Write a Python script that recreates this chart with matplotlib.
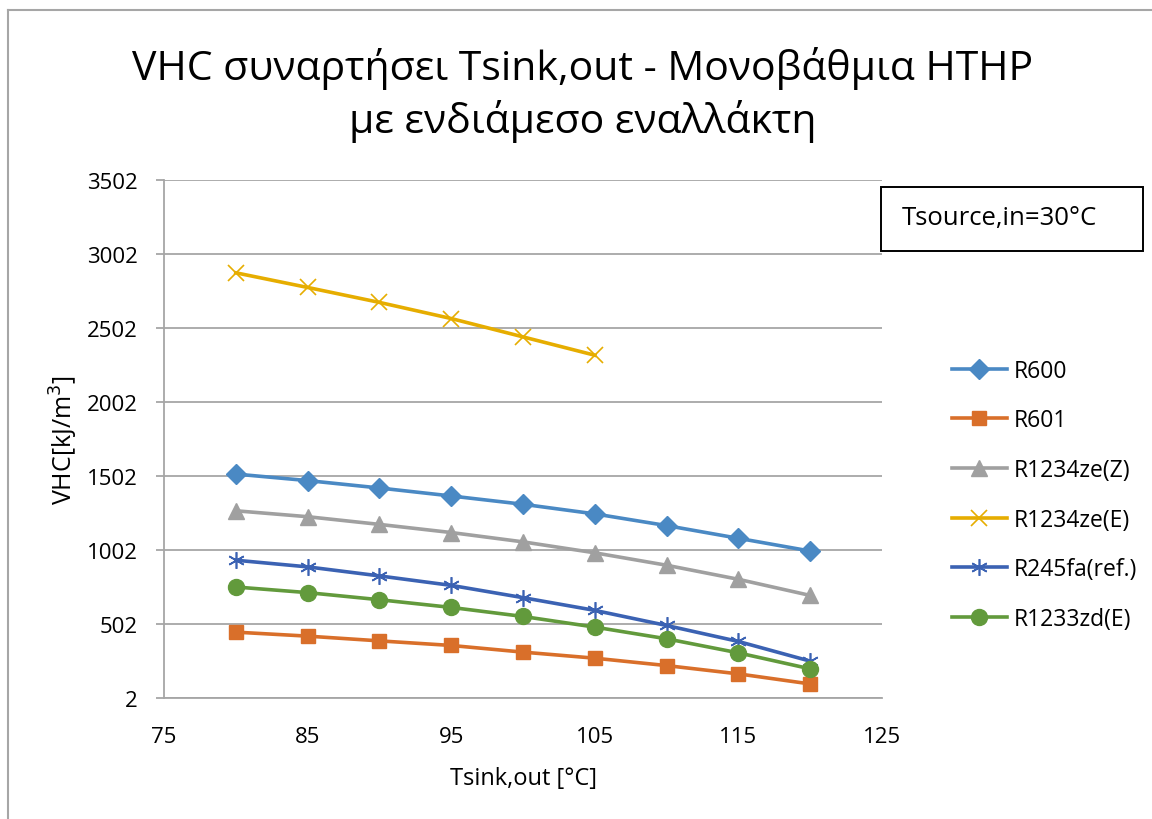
import matplotlib
matplotlib.use("Agg")
import matplotlib.pyplot as plt
from matplotlib.lines import Line2D
from matplotlib.patches import Rectangle

plt.rcParams['font.family'] = ['Open Sans', 'DejaVu Sans']

# Sink outlet temperature [°C]
t_sink = [80, 85, 90, 95, 100, 105, 110, 115, 120]
t_sink_ze_e = [80, 85, 90, 95, 100, 105]

# Volumetric heating capacity [kJ/m³]
vhc_r600 = [1515, 1471, 1421, 1367, 1311, 1246, 1167, 1081, 995]
vhc_r601 = [447, 420, 388, 357, 312, 271, 221, 165, 97]
vhc_r1234ze_z = [1267, 1227, 1175, 1120, 1057, 983, 899, 804, 695]
vhc_r1234ze_e = [2875, 2776, 2675, 2566, 2442, 2318]
vhc_r245fa = [933, 888, 827, 763, 680, 594, 492, 384, 251]
vhc_r1233zd_e = [752, 714, 666, 614, 553, 481, 402, 307, 199]

series_names = ["R600", "R601", "R1234ze(Z)", "R1234ze(E)", "R245fa(ref.)", "R1233zd(E)"]
y_ticks = [2, 502, 1002, 1502, 2002, 2502, 3002, 3502]
x_ticks = [75, 85, 95, 105, 115, 125]

fig = plt.figure(figsize=(11.52, 8.2), dpi=100)
ax = fig.add_axes([164 / 1152, 1 - 699 / 820, (882 - 164) / 1152, (699 - 181) / 820])

lw = 2.6
ax.plot(t_sink, vhc_r600, color="#4A89C4", lw=lw, marker="D", ms=10, label=series_names[0], zorder=3)
ax.plot(t_sink, vhc_r601, color="#D96F2A", lw=lw, marker="s", ms=10.5, label=series_names[1], zorder=3)
ax.plot(t_sink, vhc_r1234ze_z, color="#A0A0A0", lw=lw, marker="^", ms=11.5, label=series_names[2], zorder=3)
ax.plot(t_sink_ze_e, vhc_r1234ze_e, color="#E6AD00", lw=lw, marker="x", ms=11, mew=1.2,
        label=series_names[3], zorder=3)
ax.plot(t_sink, vhc_r245fa, color="#3B62B3", lw=lw, marker=(6, 2, 0), ms=12, mew=1.2,
        label=series_names[4], zorder=3)
ax.plot(t_sink, vhc_r1233zd_e, color="#629A3C", lw=lw, marker="o", ms=11.5, label=series_names[5], zorder=3)

ax.set_xlim(75, 125)
ax.set_ylim(2, 3502)
ax.set_xticks(x_ticks)
ax.set_yticks(y_ticks)
ax.grid(axis="y", color="#A6A6A6", lw=1.3, zorder=0)
for side in ["top", "right"]:
    ax.spines[side].set_visible(False)
for side in ["left", "bottom"]:
    ax.spines[side].set_color("#A6A6A6")
    ax.spines[side].set_linewidth(1.3)
ax.tick_params(axis="y", length=6, width=1.3, color="#A6A6A6", labelsize=16, pad=13)
ax.tick_params(axis="x", length=0, labelsize=16, pad=20)

ax.set_xlabel("Tsink,out [°C]", fontsize=17, labelpad=14)
ax.set_ylabel("VHC[kJ/m$^3$]", fontsize=18, labelpad=5)

fig.text(0.506, 1 - 95 / 820, "VHC συναρτήσει Tsink,out - Μονοβάθμια HTHP\nμε ενδιάμεσο εναλλάκτη",
         ha="center", va="center", fontsize=29.5, linespacing=1.28)

# Operating condition box
fig.add_artist(Rectangle((881 / 1152, 1 - 252 / 820), (1143 - 881) / 1152, 64 / 820,
                         transform=fig.transFigure, fc="white", ec="black", lw=1.4))
fig.text(999 / 1152, 1 - 219 / 820, "Tsource,in=30°C", ha="center", va="center", fontsize=18.5)

leg = fig.legend(loc="upper left", bbox_to_anchor=(931 / 1152, 1 - 339 / 820), frameon=False,
                 fontsize=16.5, handlelength=2.4, labelspacing=1.12, handletextpad=0.3)

# Outer chart frame
fig.add_artist(Line2D([8 / 1152, 8 / 1152], [0, 1 - 11 / 820], transform=fig.transFigure,
                      color="#A6A6A6", lw=1.5))
fig.add_artist(Line2D([8 / 1152, 1], [1 - 11 / 820, 1 - 11 / 820], transform=fig.transFigure,
                      color="#A6A6A6", lw=1.5))

fig.savefig("out.png", dpi=100)
